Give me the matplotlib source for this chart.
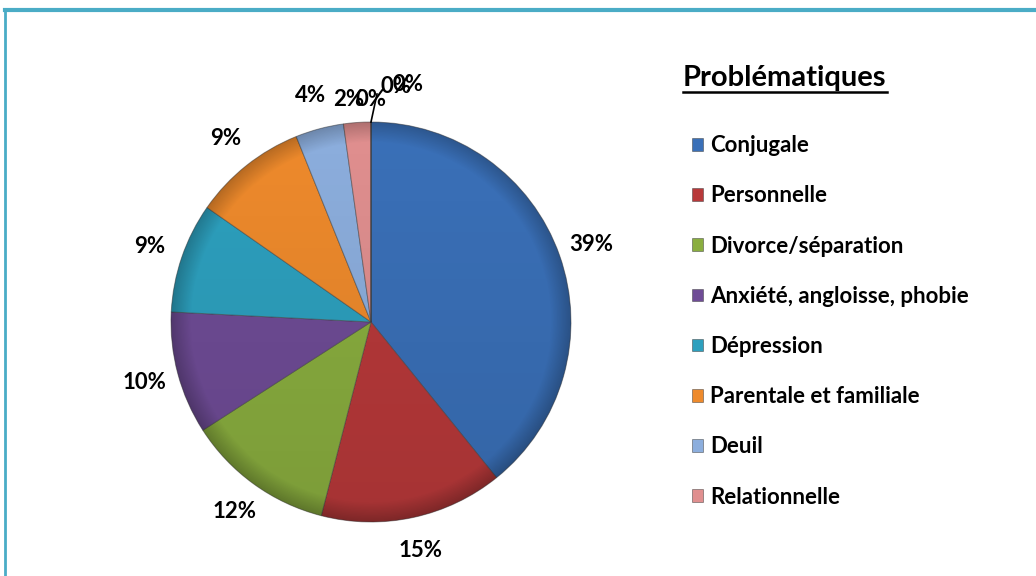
import numpy as np
import matplotlib
matplotlib.use('Agg')
import matplotlib.pyplot as plt
from matplotlib.lines import Line2D
from matplotlib.patches import Circle

# Donnees du graphique
categories = ['Conjugale', 'Personnelle', 'Divorce/séparation',
              'Anxiété, angloisse, phobie', 'Dépression',
              'Parentale et familiale', 'Deuil', 'Relationnelle']
valeurs = [39.2, 14.8, 11.9, 9.9, 8.9, 9.2, 3.9, 2.2]
# categories a 0% (absentes de la legende)
valeurs_nulles = [0.0, 0.0, 0.0]
couleurs = ['#3a70b8', '#b8393a', '#8aae3f', '#6f4c96',
            '#2da0be', '#ee8a2c', '#8caedd', '#e08f8f',
            '#3a70b8', '#3a70b8', '#3a70b8']

plt.rcParams['font.family'] = ['Lato', 'DejaVu Sans']
plt.rcParams['font.weight'] = 'bold'

W, H = 1036, 576
fig = plt.figure(figsize=(W / 100, H / 100), dpi=100)

# Axe du camembert (centre ~ (371, 322) px, rayon ~200 px)
cx, cy, R = 371, 322, 200
demi = 1.3 * R
ax = fig.add_axes([(cx - demi) / W, (H - cy - demi) / H, 2 * demi / W, 2 * demi / H])

wedges, textes, autotextes = ax.pie(
    valeurs + valeurs_nulles, colors=couleurs, startangle=90, counterclock=False,
    autopct='%.0f%%', pctdistance=1.17, radius=1,
    wedgeprops=dict(edgecolor='#40404080', linewidth=0.7),
    textprops=dict(fontsize=16, fontweight='bold', color='black'))

# Leger ombrage (effet biseau) : plus sombre vers le bas et le bord
yy, xx = np.mgrid[-1:1:400j, -1:1:400j]
rr = np.sqrt(xx ** 2 + yy ** 2)
alpha = 0.10 * (1 - yy) / 2 + 0.22 * np.clip((rr - 0.90) / 0.10, 0, 1)
ombre = np.zeros((400, 400, 4))
ombre[..., 3] = alpha
im = ax.imshow(ombre, extent=(-1, 1, -1, 1), origin='lower', zorder=3)
im.set_clip_path(Circle((0, 0), 1, transform=ax.transData))

ax.set_xlim(-1.3, 1.3)
ax.set_ylim(-1.3, 1.3)
ax.axis('off')

# Etiquettes des parts a 0% : superposees en haut, avec trait de rappel
n = len(valeurs)
pos_nulles = [(0.0, 1.11), (0.125, 1.18), (0.185, 1.19)]
for t, p in zip(autotextes[n:], pos_nulles):
    t.set_position(p)
autotextes[n - 1].set_position((-0.11, 1.11))
ax.plot([0.0, 0.03], [1.0, 1.14], color='black', linewidth=1.2, zorder=4)

# Legende
leg = fig.legend(wedges[:n], categories, loc='upper left',
                 bbox_to_anchor=(681 / W, 1 - 124 / H), frameon=False,
                 borderpad=0, handlelength=0.5, handleheight=0.5,
                 handletextpad=0.3, labelspacing=1.315,
                 prop=dict(size=16, weight='bold'))

# Titre de la legende (souligne)
titre = fig.text(683 / W, 1 - 78 / H, 'Problématiques', fontsize=21,
                 fontweight='bold', ha='left', va='center')
fig.canvas.draw()
bb = titre.get_window_extent().transformed(fig.transFigure.inverted())
fig.add_artist(Line2D([bb.x0, bb.x1], [bb.y0 - 0.002, bb.y0 - 0.002],
                      transform=fig.transFigure, color='black', linewidth=1.8))

# Cadre bleu (haut et gauche)
bord = '#4aacc6'
fig.add_artist(Line2D([5 / W, 1], [1 - 10 / H, 1 - 10 / H], transform=fig.transFigure,
                      color=bord, linewidth=3.0))
fig.add_artist(Line2D([5 / W, 5 / W], [0, 1 - 10 / H], transform=fig.transFigure,
                      color=bord, linewidth=2.0))

fig.savefig('out.png', dpi=100)
